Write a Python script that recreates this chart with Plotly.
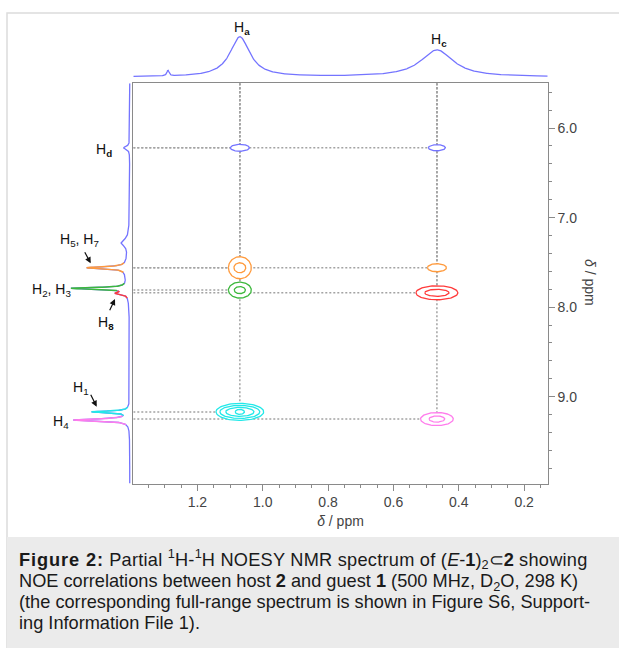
import numpy as np
import plotly.graph_objects as go

W, H = 619, 648

# ---------------- data ----------------
BLUE, ORANGE, GREEN, RED, CYAN, PINK = "#7474ff", "#ff9a3c", "#3cb83c", "#ff3b3b", "#22e8e8", "#ff7cec"

# top projection (host 2): peak shift (ppm), height, half-width (ppm)
top_shift = [1.07, 0.467, 1.29]
top_height = [40.0, 27.0, 5.5]
top_hwhm = [0.037, 0.060, 0.004]
top_labels = ["a", "c"]

# left projection (guest 1)
left_shift = [6.22, 7.28, 7.60, 7.56, 7.79, 7.845, 9.17, 9.26]
left_height = [6.0, 7.5, 4.0, 39.0, 56.0, 11.0, 37.0, 56.0]
left_hwhm = [0.020, 0.045, 0.20, 0.013, 0.011, 0.015, 0.011, 0.014]
left_color = [BLUE, BLUE, BLUE, ORANGE, GREEN, RED, CYAN, PINK]

# NOESY cross peaks: column (host), row (guest), colour, contour half-axes (ppm)
cross_col = [1.07, 0.467, 1.07, 0.467, 1.07, 0.467, 1.07, 0.467]
cross_row = [6.22, 6.22, 7.56, 7.56, 7.81, 7.84, 9.17, 9.25]
cross_color = [BLUE, BLUE, ORANGE, ORANGE, GREEN, RED, CYAN, PINK]
cross_sx = [[0.029], [0.026], [0.035, 0.018], [0.029], [0.035, 0.017],
            [0.064, 0.037], [0.073, 0.061, 0.043, 0.014], [0.050, 0.024]]
cross_sy = [[0.039], [0.034], [0.123, 0.056], [0.045], [0.089, 0.039],
            [0.078, 0.039], [0.095, 0.073, 0.050, 0.028], [0.073, 0.034]]

x_range = [1.396, 0.128]
y_range = [9.97, 5.5]
x_ticks = [1.2, 1.0, 0.8, 0.6, 0.4, 0.2]
y_ticks = [6.0, 7.0, 8.0, 9.0]

# ---------------- helpers ----------------
def px(x):
    return x / W

def py(y):
    return 1 - y / H

def lorentz(axis, c, h, g):
    return h / (1 + ((axis - c) / g) ** 2)

FONT = "Arial, 'Liberation Sans', sans-serif"
DOT = "#a3a3a3"
AX = "#8a8a8a"

fig = go.Figure()

# dotted guide lines
for cx, cy in zip(cross_col, cross_row):
    fig.add_trace(go.Scatter(x=[x_range[0], cx], y=[cy, cy], mode="lines",
                             line=dict(color=DOT, width=1.5, dash="2px,2px"),
                             hoverinfo="skip", showlegend=False))
    fig.add_trace(go.Scatter(x=[cx, cx], y=[y_range[1], cy], mode="lines",
                             line=dict(color=DOT, width=1.5, dash="2px,2px"),
                             hoverinfo="skip", showlegend=False))

# contours
t = np.linspace(0, 2 * np.pi, 90)
for cx, cy, col, sxs, sys_ in zip(cross_col, cross_row, cross_color, cross_sx, cross_sy):
    for sx, sy in zip(sxs, sys_):
        fig.add_trace(go.Scatter(x=cx + sx * np.cos(t), y=cy + sy * np.sin(t),
                                 mode="lines", fill="toself", fillcolor="white",
                                 line=dict(color=col, width=1.3),
                                 hoverinfo="skip", showlegend=False))

# top projection
xs = np.linspace(x_range[0], x_range[1], 1200)
top = sum(lorentz(xs, c, h, g) for c, h, g in zip(top_shift, top_height, top_hwhm))
fig.add_trace(go.Scatter(x=xs, y=top, xaxis="x", yaxis="y2", mode="lines",
                         line=dict(color=BLUE, width=1.3), hoverinfo="skip", showlegend=False))

# left projection
ys = np.linspace(y_range[1], y_range[0], 3000)
left = sum(lorentz(ys, c, h, g) for c, h, g in zip(left_shift, left_height, left_hwhm))
fig.add_trace(go.Scatter(x=left, y=ys, xaxis="x3", yaxis="y", mode="lines",
                         line=dict(color=BLUE, width=1.3), hoverinfo="skip", showlegend=False))
colored = [(c, col) for c, col in zip(left_shift, left_color) if col != BLUE]
for i, (c, col) in enumerate(colored):
    lo, hi = c - 0.055, c + 0.055
    if i > 0:
        lo = max(lo, (c + colored[i - 1][0]) / 2)
    if i < len(colored) - 1:
        hi = min(hi, (c + colored[i + 1][0]) / 2)
    m = (ys >= lo) & (ys <= hi)
    fig.add_trace(go.Scatter(x=left[m], y=ys[m], xaxis="x3", yaxis="y", mode="lines",
                             line=dict(color=col, width=1.5), hoverinfo="skip", showlegend=False))

# ---------------- layout ----------------
box_l, box_r, box_t, box_b = 133.3, 547.7, 83.3, 483.5

fig.update_layout(
    width=W, height=H, autosize=False,
    margin=dict(l=0, r=0, t=0, b=0),
    paper_bgcolor="white", plot_bgcolor="rgba(0,0,0,0)",
    font=dict(family=FONT, color="#333", size=14),
    xaxis=dict(domain=[px(box_l), px(box_r)], anchor="y", range=x_range,
               showgrid=False, zeroline=False, showline=True, linecolor=AX, linewidth=1,
               mirror=True, ticks="outside", ticklen=6, tickcolor=AX,
               tickvals=x_ticks, ticktext=[f"{v:.1f}" for v in x_ticks],
               minor=dict(dtick=0.05, tick0=0, ticks="outside", ticklen=3, tickcolor=AX),
               tickfont=dict(size=14, color="#444"),
               title=dict(text="<i>δ</i> / ppm", font=dict(size=14, color="#444"), standoff=6)),
    yaxis=dict(domain=[py(box_b), py(box_t)], anchor="x", side="right", range=y_range,
               showgrid=False, zeroline=False, showline=True, linecolor=AX, linewidth=1,
               mirror=True, ticks="outside", ticklen=6, tickcolor=AX,
               tickvals=y_ticks, ticktext=[f"{v:.1f}" for v in y_ticks],
               minor=dict(dtick=0.2, tick0=0, ticks="outside", ticklen=3, tickcolor=AX),
               tickfont=dict(size=14, color="#444")),
    yaxis2=dict(domain=[py(82), py(20)], anchor="x", range=[-5.0, 57.0], visible=False),
    xaxis3=dict(domain=[0, px(box_l)], anchor="y", range=[129.8, -3.5], visible=False),
)

# card and caption background
fig.add_shape(type="rect", xref="paper", yref="paper", x0=px(7), x1=1.02, y0=-0.02, y1=py(13),
              line=dict(color="#dcdcdc", width=1.5), fillcolor="white", layer="below")
fig.add_shape(type="rect", xref="paper", yref="paper", x0=px(7), x1=1.02, y0=-0.02, y1=py(537),
              line=dict(width=0), fillcolor="#ebebeb", layer="below")

ann = []
def label(text, x, y, size=14):
    ann.append(dict(text=text, x=px(x), y=py(y), xref="paper", yref="paper",
                    showarrow=False, font=dict(size=size, color="#111"),
                    xanchor="center", yanchor="middle"))

label("H<sub><b>a</b></sub>", 242, 28)
label("H<sub><b>c</b></sub>", 439, 40)
label("H<sub><b>d</b></sub>", 104, 150)
label("H<sub>5</sub>, H<sub>7</sub>", 79, 240)
label("H<sub>2</sub>, H<sub>3</sub>", 51, 290)
label("H<sub><b>8</b></sub>", 106, 323)
label("H<sub>1</sub>", 81, 388)
label("H<sub>4</sub>", 61, 422)

def arrow(tip, tail):
    ann.append(dict(text="", x=px(tip[0]), y=py(tip[1]), xref="paper", yref="paper",
                    ax=tail[0] - tip[0], ay=tail[1] - tip[1], showarrow=True,
                    arrowhead=2, arrowsize=1, arrowwidth=1.2, arrowcolor="#111"))

arrow((90.7, 263.3), (84, 250.7))
arrow((115, 299), (109, 311.7))
arrow((96.7, 406.7), (90, 393.3))

# right axis title
ann.append(dict(text="<i>δ</i> / ppm", x=px(590), y=py(282), xref="paper", yref="paper",
                showarrow=False, textangle=90, font=dict(size=14, color="#444"),
                xanchor="center", yanchor="middle"))

LS = "<span style=\"letter-spacing:0.25px\">"
caption = [
    "<b><span style=\"letter-spacing:0.9px\">Figure 2:</span></b>" + LS + " Partial </span><sup>1</sup>"
    + LS + "H-</span><sup>1</sup>" + LS + "H NOESY NMR spectrum of (</span><i>E</i>-<b>1</b>)<sub>2</sub>⊂<b>2</b>"
    + LS + " showing</span>",
    "NOE correlations between host <b>2</b> and guest <b>1</b> (500 MHz, D<sub>2</sub>O, 298 K)",
    "(the corresponding full-range spectrum is shown in Figure S6, Support-",
    "ing Information File 1).",
]
cap_y = [558.5, 582.5, 601.5, 623]
for line, yy in zip(caption, cap_y):
    ann.append(dict(text=line, x=px(17), y=py(yy), xref="paper", yref="paper",
                    showarrow=False, xanchor="left", yanchor="middle", align="left",
                    font=dict(size=18.2, color="#1a1a1a")))

fig.update_layout(annotations=ann)
fig.write_html("out.html", config={"displayModeBar": False},
               post_script="document.body.style.margin='0';document.body.style.padding='0';")
